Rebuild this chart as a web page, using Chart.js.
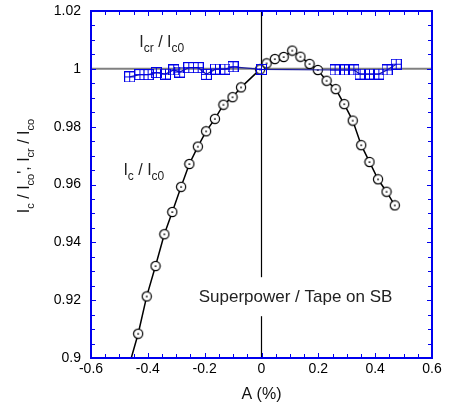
<!DOCTYPE html>
<html>
<head>
  <meta charset="utf-8">
  <title>Ic / Ic0 vs A</title>
  <script src="https://cdn.jsdelivr.net/npm/chart.js"></script>
  <style>
    * { margin: 0; padding: 0; box-sizing: border-box; }
    html, body { width: 449px; height: 410px; overflow: hidden; background: #fff; }
  </style>
</head>
<body>
  <canvas id="grafik" width="449" height="410"></canvas>

  <script>
    // Ic / Ic0 (open circles)
    const icA   = [-0.434, -0.404, -0.373, -0.342, -0.314, -0.283, -0.254, -0.224, -0.195, -0.164,
                   -0.134, -0.102, -0.072, -0.005, 0.018, 0.047, 0.078, 0.108, 0.137, 0.169,
                   0.198, 0.229, 0.261, 0.291, 0.321, 0.351, 0.380, 0.410, 0.440, 0.469];
    const icVal = [0.9084, 0.9213, 0.9318, 0.9428, 0.9505, 0.9592, 0.9671, 0.9731, 0.9784, 0.9827,
                   0.9876, 0.9902, 0.9936, 0.9998, 1.0019, 1.0034, 1.0041, 1.0063, 1.0042, 1.0017,
                   0.9996, 0.9959, 0.9930, 0.9878, 0.9821, 0.9736, 0.9678, 0.9618, 0.9575, 0.9528];

    // curve through the circles, it runs out below the axis on the left
    const fitA   = [-0.47].concat(icA);
    const fitVal = [0.896].concat(icVal);

    // Icr / Ic0 (squares)
    const icrA   = [-0.464, -0.428, -0.399, -0.370, -0.338, -0.309, -0.288, -0.256, -0.223, -0.194,
                    -0.162, -0.129, -0.100, 0, 0.259, 0.292, 0.325, 0.347, 0.380, 0.413, 0.442, 0.474];
    const icrVal = [0.9972, 0.9980, 0.9980, 0.9987, 0.9982, 0.9996, 0.9989, 1.0004, 1.0004, 0.9981,
                    0.9999, 0.9999, 1.0007, 0.9998, 0.9996, 0.9996, 0.9996, 0.9982, 0.9982, 0.9982,
                    0.9996, 1.0016];

    // axes
    const xTicks = [-0.6, -0.4, -0.2, 0, 0.2, 0.4, 0.6];
    const yTicks = [0.9, 0.92, 0.94, 0.96, 0.98, 1, 1.02];
    const refLevel = 1;

    const xMin = xTicks[0], xMax = xTicks[xTicks.length - 1];
    const yMin = yTicks[0], yMax = yTicks[yTicks.length - 1];

    const toPts = (xs, ys) => xs.map((v, i) => ({ x: v, y: ys[i] }));

    // markers
    function circleMarker() {
      const c = document.createElement('canvas');
      c.width = 12; c.height = 12;
      const g = c.getContext('2d');
      g.beginPath();
      g.arc(6, 6, 4.6, 0, Math.PI * 2);
      g.fillStyle = '#fff';
      g.fill();
      g.lineWidth = 1.2;
      g.strokeStyle = '#000';
      g.stroke();
      g.fillStyle = '#000';
      g.fillRect(5, 5.5, 2, 1.2);
      return c;
    }
    function squareMarker() {
      const c = document.createElement('canvas');
      c.width = 11; c.height = 11;
      const g = c.getContext('2d');
      g.strokeStyle = '#0000e8';
      g.lineWidth = 1;
      g.strokeRect(0.5, 0.5, 10, 10);
      g.beginPath();
      g.moveTo(5.5, 0.5); g.lineTo(5.5, 10.5);
      g.moveTo(0.5, 5.5); g.lineTo(10.5, 5.5);
      g.stroke();
      return c;
    }

    const FONT = '"Liberation Sans", Arial, sans-serif';

    // text with subscripts: parts = [[text, isSub], ...]
    function drawSub(ctx, parts, x, y, size, subSize) {
      let cx = x;
      for (const [t, sub] of parts) {
        ctx.font = (sub ? subSize : size) + 'px ' + FONT;
        ctx.fillText(t, cx, sub ? y + 5 : y);
        cx += ctx.measureText(t).width;
      }
      return cx - x;
    }
    function subWidth(ctx, parts, size, subSize) {
      let w = 0;
      for (const [t, sub] of parts) {
        ctx.font = (sub ? subSize : size) + 'px ' + FONT;
        w += ctx.measureText(t).width;
      }
      return w;
    }

    const framePlugin = {
      id: 'frame',
      afterDatasetsDraw(chart) {
        const { ctx, chartArea: a, scales: { x, y } } = chart;
        ctx.save();
        ctx.textAlign = 'left';
        ctx.textBaseline = 'alphabetic';
        ctx.fillStyle = '#222';

        // label inside, with white box over the vertical line
        ctx.font = '17px ' + FONT;
        const label = 'Superpower / Tape on SB';
        const lw = ctx.measureText(label).width;
        const lx = x.getPixelForValue(-0.221), ly = y.getPixelForValue(0.9193);
        ctx.fillStyle = '#fff';
        ctx.fillRect(lx - 6, ly - 25, lw + 12, 39);
        ctx.fillStyle = '#222';
        ctx.fillText(label, lx, ly);

        drawSub(ctx, [['I', false], ['cr', true], [' / I', false], ['c0', true]],
          x.getPixelForValue(-0.43), y.getPixelForValue(1.0077), 16, 12);
        drawSub(ctx, [['I', false], ['c', true], [' / I', false], ['c0', true]],
          x.getPixelForValue(-0.486), y.getPixelForValue(0.9633), 16, 12);

        // box
        ctx.strokeStyle = '#0000ee';
        ctx.lineWidth = 2;
        ctx.strokeRect(a.left, a.top, a.right - a.left, a.bottom - a.top);

        // inward ticks on all four sides
        ctx.lineWidth = 1;
        ctx.beginPath();
        for (let i = 0; i <= 24; i++) {
          const len = i % 4 === 0 ? 5 : 4;
          const px = Math.round(x.getPixelForValue(xMin + i * (xMax - xMin) / 24)) + 0.5;
          ctx.moveTo(px, a.bottom); ctx.lineTo(px, a.bottom - len);
          ctx.moveTo(px, a.top); ctx.lineTo(px, a.top + len);
          const py = Math.round(y.getPixelForValue(yMin + i * (yMax - yMin) / 24)) + 0.5;
          ctx.moveTo(a.left, py); ctx.lineTo(a.left + len, py);
          ctx.moveTo(a.right, py); ctx.lineTo(a.right - len, py);
        }
        ctx.stroke();

        // axis titles
        ctx.fillStyle = '#111';
        ctx.font = '16px ' + FONT;
        ctx.textAlign = 'center';
        ctx.fillText('A (%)', (a.left + a.right) / 2, 399);

        ctx.textAlign = 'left';
        const yParts = [['I', false], ['c', true], [' / I', false], ['co', true], ["', I", false],
                        ['cr', true], [' / I', false], ['co', true]];
        const tw = subWidth(ctx, yParts, 16, 11);
        ctx.translate(29, 166);
        ctx.rotate(-Math.PI / 2);
        drawSub(ctx, yParts, -tw / 2, 0, 16, 11);
        ctx.restore();
      }
    };

    const ctx = document.getElementById('grafik').getContext('2d');
    const chart = new Chart(ctx, {
      type: 'scatter',
      data: {
        datasets: [
          {
            label: 'Icr / Ic0',
            data: toPts(icrA, icrVal),
            showLine: true,
            borderColor: '#1c1ca0',
            borderWidth: 1.2,
            pointStyle: squareMarker(),
            pointRadius: 5,
            order: 1
          },
          {
            label: 'Ic / Ic0',
            data: toPts(icA, icVal),
            showLine: false,
            pointStyle: circleMarker(),
            pointRadius: 5,
            order: 2
          },
          {
            label: 'fit',
            data: toPts(fitA, fitVal),
            showLine: true,
            borderColor: '#000',
            borderWidth: 1.5,
            pointRadius: 0,
            order: 3
          },
          {
            label: 'A = 0',
            data: toPts([0, 0], [yMin, yMax]),
            showLine: true,
            borderColor: '#000',
            borderWidth: 1.2,
            pointRadius: 0,
            order: 4
          },
          {
            label: 'ref',
            data: toPts([xMin, xMax], [refLevel, refLevel]),
            showLine: true,
            borderColor: '#808080',
            borderWidth: 2,
            pointRadius: 0,
            order: 5
          }
        ]
      },
      options: {
        responsive: false,
        animation: false,
        layout: { padding: { top: 11, right: 17, left: 0, bottom: 0 } },
        plugins: { legend: { display: false }, tooltip: { enabled: false } },
        scales: {
          x: {
            type: 'linear',
            min: xMin, max: xMax,
            grid: { display: false, drawTicks: false },
            border: { display: false },
            ticks: {
              stepSize: 0.2,
              padding: 3,
              color: '#000',
              font: { family: FONT, size: 14 },
              maxRotation: 0,
              autoSkip: false,
              callback: v => String(+v.toFixed(1))
            },
            afterFit: s => { s.height = 52; s.paddingLeft = 0; s.paddingRight = 0; }
          },
          y: {
            type: 'linear',
            min: yMin, max: yMax,
            grid: { display: false, drawTicks: false },
            border: { display: false },
            ticks: {
              stepSize: 0.02,
              padding: 10,
              color: '#000',
              font: { family: FONT, size: 14 },
              autoSkip: false,
              callback: v => String(+v.toFixed(2))
            },
            afterFit: s => { s.width = 91; s.paddingTop = 0; s.paddingBottom = 0; }
          }
        }
      },
      plugins: [framePlugin]
    });
  </script>
</body>
</html>
